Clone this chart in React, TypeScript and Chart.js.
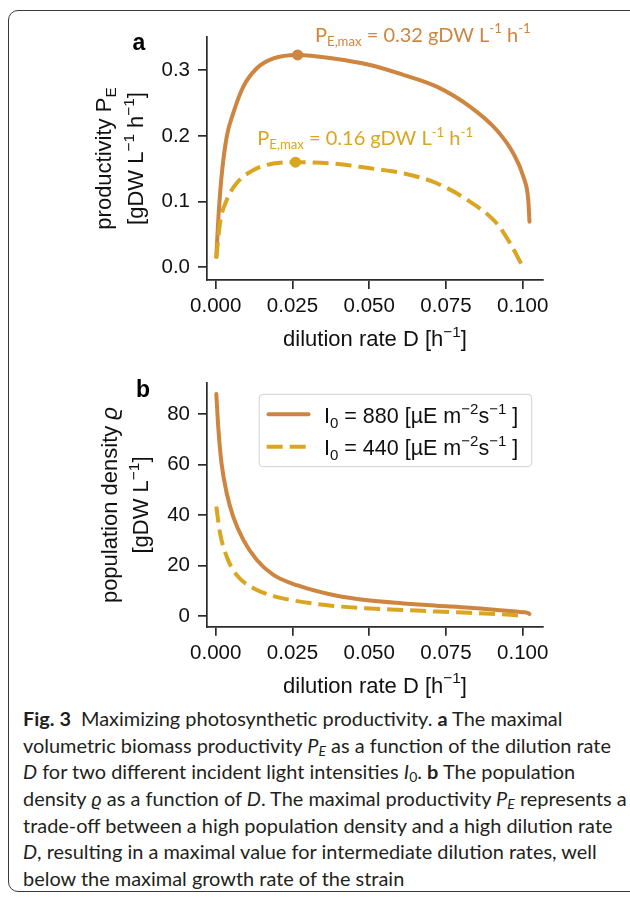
import React, { useEffect, useLayoutEffect, useRef } from "react";
import { Chart, registerables } from "chart.js";

Chart.register(...registerables);

// ---------- data ----------
const dilutionHigh = [0.0002, 0.0009, 0.0019, 0.0036, 0.0057, 0.009, 0.0134, 0.0188, 0.0267, 0.0383, 0.0503, 0.0611, 0.072, 0.0828, 0.0915, 0.0969, 0.1002, 0.1018, 0.1022];
const productivityHigh = [0.016, 0.077, 0.138, 0.199, 0.2345, 0.275, 0.303, 0.318, 0.3233, 0.318, 0.308, 0.293, 0.275, 0.2446, 0.209, 0.1736, 0.138, 0.1025, 0.0695];
const densityHigh = [88.1, 73.8, 60.6, 48.7, 39.4, 30.2, 22.2, 16.3, 12.1, 8.3, 6.1, 5.0, 4.1, 3.3, 2.4, 1.9, 1.5, 1.1, 0.8];

const dilutionLow = [0.0002, 0.0014, 0.0036, 0.0068, 0.0123, 0.0188, 0.026, 0.0383, 0.0503, 0.0611, 0.072, 0.0828, 0.0915, 0.0959, 0.1];
const productivityLow = [0.0137, 0.067, 0.1025, 0.128, 0.148, 0.158, 0.16, 0.158, 0.1507, 0.143, 0.128, 0.1, 0.067, 0.0365, 0.001];
const densityLow = [43.4, 33.0, 23.5, 16.3, 11.0, 7.9, 6.0, 4.0, 3.0, 2.4, 1.75, 1.25, 0.8, 0.45, 0.05];

const peakHigh = [0.0267, 0.3233];
const peakLow = [0.026, 0.16];

const xTicks = [0, 0.025, 0.05, 0.075, 0.1];
const yTicksA = [0, 0.1, 0.2, 0.3];
const yTicksB = [0, 20, 40, 60, 80];

const legendLabels = ["880", "440"];

const ORANGE = "#CD853F";
const GOLD = "#DAA520";
const AXIS = "#2b2b2b";
const SANS = "'Liberation Sans', Arial, sans-serif";
const ANN = "Lato, 'Open Sans', sans-serif";

type Seg = { t: string; m?: "sub" | "sup"; i?: boolean };

function drawRich(
  ctx: CanvasRenderingContext2D,
  segs: Seg[],
  x: number,
  y: number,
  size: number,
  family: string,
  color: string,
  align: "left" | "center" | "right" = "left",
  weight = "normal",
  subScale = 0.7
) {
  ctx.save();
  ctx.fillStyle = color;
  ctx.textBaseline = "alphabetic";
  ctx.textAlign = "left";
  const parts = segs.map((s) => {
    const sz = s.m ? size * subScale : size;
    const font = `${s.i ? "italic " : ""}${weight} ${sz}px ${family}`;
    ctx.font = font;
    return {
      t: s.t,
      font,
      w: ctx.measureText(s.t).width,
      dy: s.m === "sub" ? size * 0.22 : s.m === "sup" ? -size * 0.42 : 0,
    };
  });
  const total = parts.reduce((a, p) => a + p.w, 0);
  let cx = align === "center" ? x - total / 2 : align === "right" ? x - total : x;
  for (const p of parts) {
    ctx.font = p.font;
    ctx.fillText(p.t, cx, y + p.dy);
    cx += p.w;
  }
  ctx.restore();
  return total;
}

function drawRotated(ctx: CanvasRenderingContext2D, segs: Seg[], baseX: number, centerY: number, size: number) {
  ctx.save();
  ctx.translate(baseX, centerY);
  ctx.rotate(-Math.PI / 2);
  drawRich(ctx, segs, 0, 0, size, SANS, "#111", "center");
  ctx.restore();
}

const xTitle: Seg[] = [{ t: "dilution rate D [h" }, { t: "\u22121", m: "sup" }, { t: "]" }];

function axisCommon(ticks: number[], digits: number, isX: boolean, min: number, max: number, fixed: number) {
  return {
    type: "linear" as const,
    min,
    max,
    afterFit: (s: any) => {
      if (isX) s.height = fixed;
      else s.width = fixed;
    },
    afterBuildTicks: (s: any) => {
      s.ticks = ticks.map((v) => ({ value: v }));
    },
    ticks: {
      callback: (v: any) => Number(v).toFixed(digits),
      font: { family: SANS, size: 20.5 },
      color: "#111",
      padding: isX ? 5 : 8,
      autoSkip: false,
      maxRotation: 0,
      includeBounds: false,
    },
    grid: {
      display: true,
      drawOnChartArea: false,
      drawTicks: true,
      tickLength: 9,
      color: AXIS,
      lineWidth: 1.7,
    },
    border: { display: true, color: AXIS, width: 1.7 },
  };
}

function lineSet(xs: number[], ys: number[], color: string, dashed: boolean, order: number) {
  return {
    data: xs.map((x, i) => ({ x, y: ys[i] })),
    borderColor: color,
    backgroundColor: color,
    borderWidth: 4,
    borderDash: dashed ? [16, 7] : [],
    borderCapStyle: dashed ? ("butt" as const) : ("round" as const),
    pointRadius: 0,
    cubicInterpolationMode: "monotone" as const,
    fill: false,
    order,
  };
}

function markerSet(p: number[], color: string) {
  return {
    data: [{ x: p[0], y: p[1] }],
    showLine: false,
    pointRadius: 5.5,
    pointBackgroundColor: color,
    pointBorderColor: color,
    pointBorderWidth: 0,
    order: 0,
  };
}

const App: React.FC = () => {
  const refA = useRef<HTMLCanvasElement>(null);
  const refB = useRef<HTMLCanvasElement>(null);
  const capRef = useRef<HTMLDivElement>(null);
  const fitRef = useRef<HTMLSpanElement>(null);

  useEffect(() => {
    const pluginA = {
      id: "annA",
      afterDraw(chart: any) {
        const ctx = chart.ctx as CanvasRenderingContext2D;
        const ca = chart.chartArea;
        const cy = (ca.top + ca.bottom) / 2;
        drawRich(ctx, xTitle, (ca.left + ca.right) / 2, 346, 22, SANS, "#111", "center");
        drawRotated(ctx, [{ t: "productivity P" }, { t: "E", m: "sub" }], 111, cy, 22);
        drawRotated(
          ctx,
          [{ t: "[gDW L" }, { t: "\u22121", m: "sup" }, { t: " h" }, { t: "\u22121", m: "sup" }, { t: "]" }],
          143,
          cy,
          22
        );
        drawRich(ctx, [{ t: "a" }], 132.5, 50, 23, SANS, "#000", "left", "bold");
        drawRich(
          ctx,
          [{ t: "P" }, { t: "E,max", m: "sub" }, { t: " = 0.32 gDW L" }, { t: "-1", m: "sup" }, { t: " h" }, { t: "-1", m: "sup" }],
          315,
          41.7,
          20,
          ANN,
          ORANGE,
          "left",
          "normal",
          0.66
        );
        drawRich(
          ctx,
          [{ t: "P" }, { t: "E,max", m: "sub" }, { t: " = 0.16 gDW L" }, { t: "-1", m: "sup" }, { t: " h" }, { t: "-1", m: "sup" }],
          257.3,
          145,
          20,
          ANN,
          GOLD,
          "left",
          "normal",
          0.66
        );
      },
    };

    const pluginB = {
      id: "annB",
      afterDraw(chart: any) {
        const ctx = chart.ctx as CanvasRenderingContext2D;
        const ca = chart.chartArea;
        const cy = (ca.top + ca.bottom) / 2;
        drawRich(ctx, xTitle, (ca.left + ca.right) / 2, 332.7, 22, SANS, "#111", "center");
        drawRotated(ctx, [{ t: "population density " }, { t: "\u03F1", i: true }], 117, cy, 22);
        drawRotated(ctx, [{ t: "[gDW L" }, { t: "\u22121", m: "sup" }, { t: "]" }], 148, cy, 22);
        drawRich(ctx, [{ t: "b" }], 136, 36.7, 23, SANS, "#000", "left", "bold");

        // legend
        ctx.save();
        ctx.beginPath();
        (ctx as any).roundRect(259.3, 34.3, 272.4, 72.4, 4);
        ctx.fillStyle = "rgba(255,255,255,0.85)";
        ctx.fill();
        ctx.strokeStyle = "#d9d9d9";
        ctx.lineWidth = 1.2;
        ctx.stroke();
        const rows = [
          { y: 54.3, color: ORANGE, dash: [] as number[], cap: "round" as CanvasLineCap },
          { y: 86.7, color: GOLD, dash: [16, 7], cap: "butt" as CanvasLineCap },
        ];
        rows.forEach((r, i) => {
          ctx.beginPath();
          ctx.setLineDash(r.dash);
          ctx.lineCap = r.cap;
          ctx.strokeStyle = r.color;
          ctx.lineWidth = 4;
          ctx.moveTo(r.cap === "round" ? 268.5 : 266.7, r.y);
          ctx.lineTo(r.cap === "round" ? 308.5 : 310, r.y);
          ctx.stroke();
          ctx.setLineDash([]);
          drawRich(
            ctx,
            [
              { t: "I" },
              { t: "0", m: "sub" },
              { t: ` = ${legendLabels[i]} [\u00B5E m` },
              { t: "\u22122", m: "sup" },
              { t: "s" },
              { t: "\u22121", m: "sup" },
              { t: " ]" },
            ],
            324,
            r.y + 8.7,
            21.5,
            SANS,
            "#111"
          );
        });
        ctx.restore();
      },
    };

    const chartA = new Chart(refA.current!, {
      type: "line",
      data: {
        datasets: [
          markerSet(peakHigh, ORANGE),
          markerSet(peakLow, GOLD),
          lineSet(dilutionLow, productivityLow, GOLD, true, 1),
          lineSet(dilutionHigh, productivityHigh, ORANGE, false, 2),
        ] as any,
      },
      options: {
        animation: false,
        responsive: false,
        devicePixelRatio: 1,
        layout: { padding: { left: 0, right: 87, top: 37, bottom: 30 } },
        plugins: { legend: { display: false }, tooltip: { enabled: false } },
        scales: {
          x: axisCommon(xTicks, 3, true, -0.00283, 0.1066, 50),
          y: axisCommon(yTicksA, 1, false, -0.0193, 0.3506, 207),
        } as any,
      },
      plugins: [pluginA],
    });

    const chartB = new Chart(refB.current!, {
      type: "line",
      data: {
        datasets: [
          lineSet(dilutionLow, densityLow, GOLD, true, 1),
          lineSet(dilutionHigh, densityHigh, ORANGE, false, 2),
        ] as any,
      },
      options: {
        animation: false,
        responsive: false,
        devicePixelRatio: 1,
        layout: { padding: { left: 0, right: 87, top: 23.3, bottom: 28.3 } },
        plugins: { legend: { display: false }, tooltip: { enabled: false } },
        scales: {
          x: axisCommon(xTicks, 3, true, -0.00283, 0.1066, 50),
          y: axisCommon(yTicksB, 0, false, -4.25, 92.3, 207),
        } as any,
      },
      plugins: [pluginB],
    });

    return () => {
      chartA.destroy();
      chartB.destroy();
    };
  }, []);

  useLayoutEffect(() => {
    const fit = () => {
      const s = fitRef.current;
      const c = capRef.current;
      if (!s || !c) return;
      c.style.transform = "none";
      const w = s.getBoundingClientRect().width;
      if (w > 0) c.style.transform = `scaleX(${589.5 / w})`;
    };
    fit();
    if ((document as any).fonts?.ready) (document as any).fonts.ready.then(fit);
  }, []);

  const sub = (t: string, italic = false) => (
    <sub style={{ fontSize: "0.7em", verticalAlign: "-0.25em", lineHeight: 0, fontStyle: italic ? "italic" : "normal" }}>{t}</sub>
  );
  const line: React.CSSProperties = { whiteSpace: "nowrap", height: 26.7 };

  return (
    <div style={{ position: "absolute", left: 0, top: 0, width: 630, height: 898, overflow: "hidden", background: "#fff" }}>
      <div
        style={{
          position: "absolute",
          left: 8,
          top: 10,
          width: 660,
          height: 882,
          border: "1.3px solid #3a3a3a",
          borderRadius: 10,
          boxSizing: "border-box",
        }}
      />
      <canvas ref={refA} width={630} height={360} style={{ position: "absolute", left: 0, top: 0 }} />
      <canvas ref={refB} width={630} height={345} style={{ position: "absolute", left: 0, top: 360 }} />
      <div
        ref={capRef}
        style={{
          position: "absolute",
          left: 22.7,
          top: 706,
          fontFamily: "Lato, 'Open Sans', sans-serif",
          fontSize: 19,
          lineHeight: "26.7px",
          color: "#231f20",
          transformOrigin: "0 0",
        }}
      >
        <div style={line}>
          <b>Fig. 3</b>&ensp;Maximizing photosynthetic productivity. <b>a</b> The maximal
        </div>
        <div style={line}>
          volumetric biomass productivity <i>P</i>
          {sub("E", true)} as a function of the dilution rate
        </div>
        <div style={line}>
          <i>D</i> for two different incident light intensities <i>I</i>
          {sub("0")}. <b>b</b> The population
        </div>
        <div style={line}>
          density <i>ϱ</i> as a function of <i>D</i>. The maximal productivity <i>P</i>
          {sub("E", true)} represents a
        </div>
        <div style={line}>
          <span ref={fitRef}>trade-off between a high population density and a high dilution rate</span>
        </div>
        <div style={line}>
          <i>D</i>, resulting in a maximal value for intermediate dilution rates, well
        </div>
        <div style={line}>below the maximal growth rate of the strain</div>
      </div>
    </div>
  );
};

export default App;
